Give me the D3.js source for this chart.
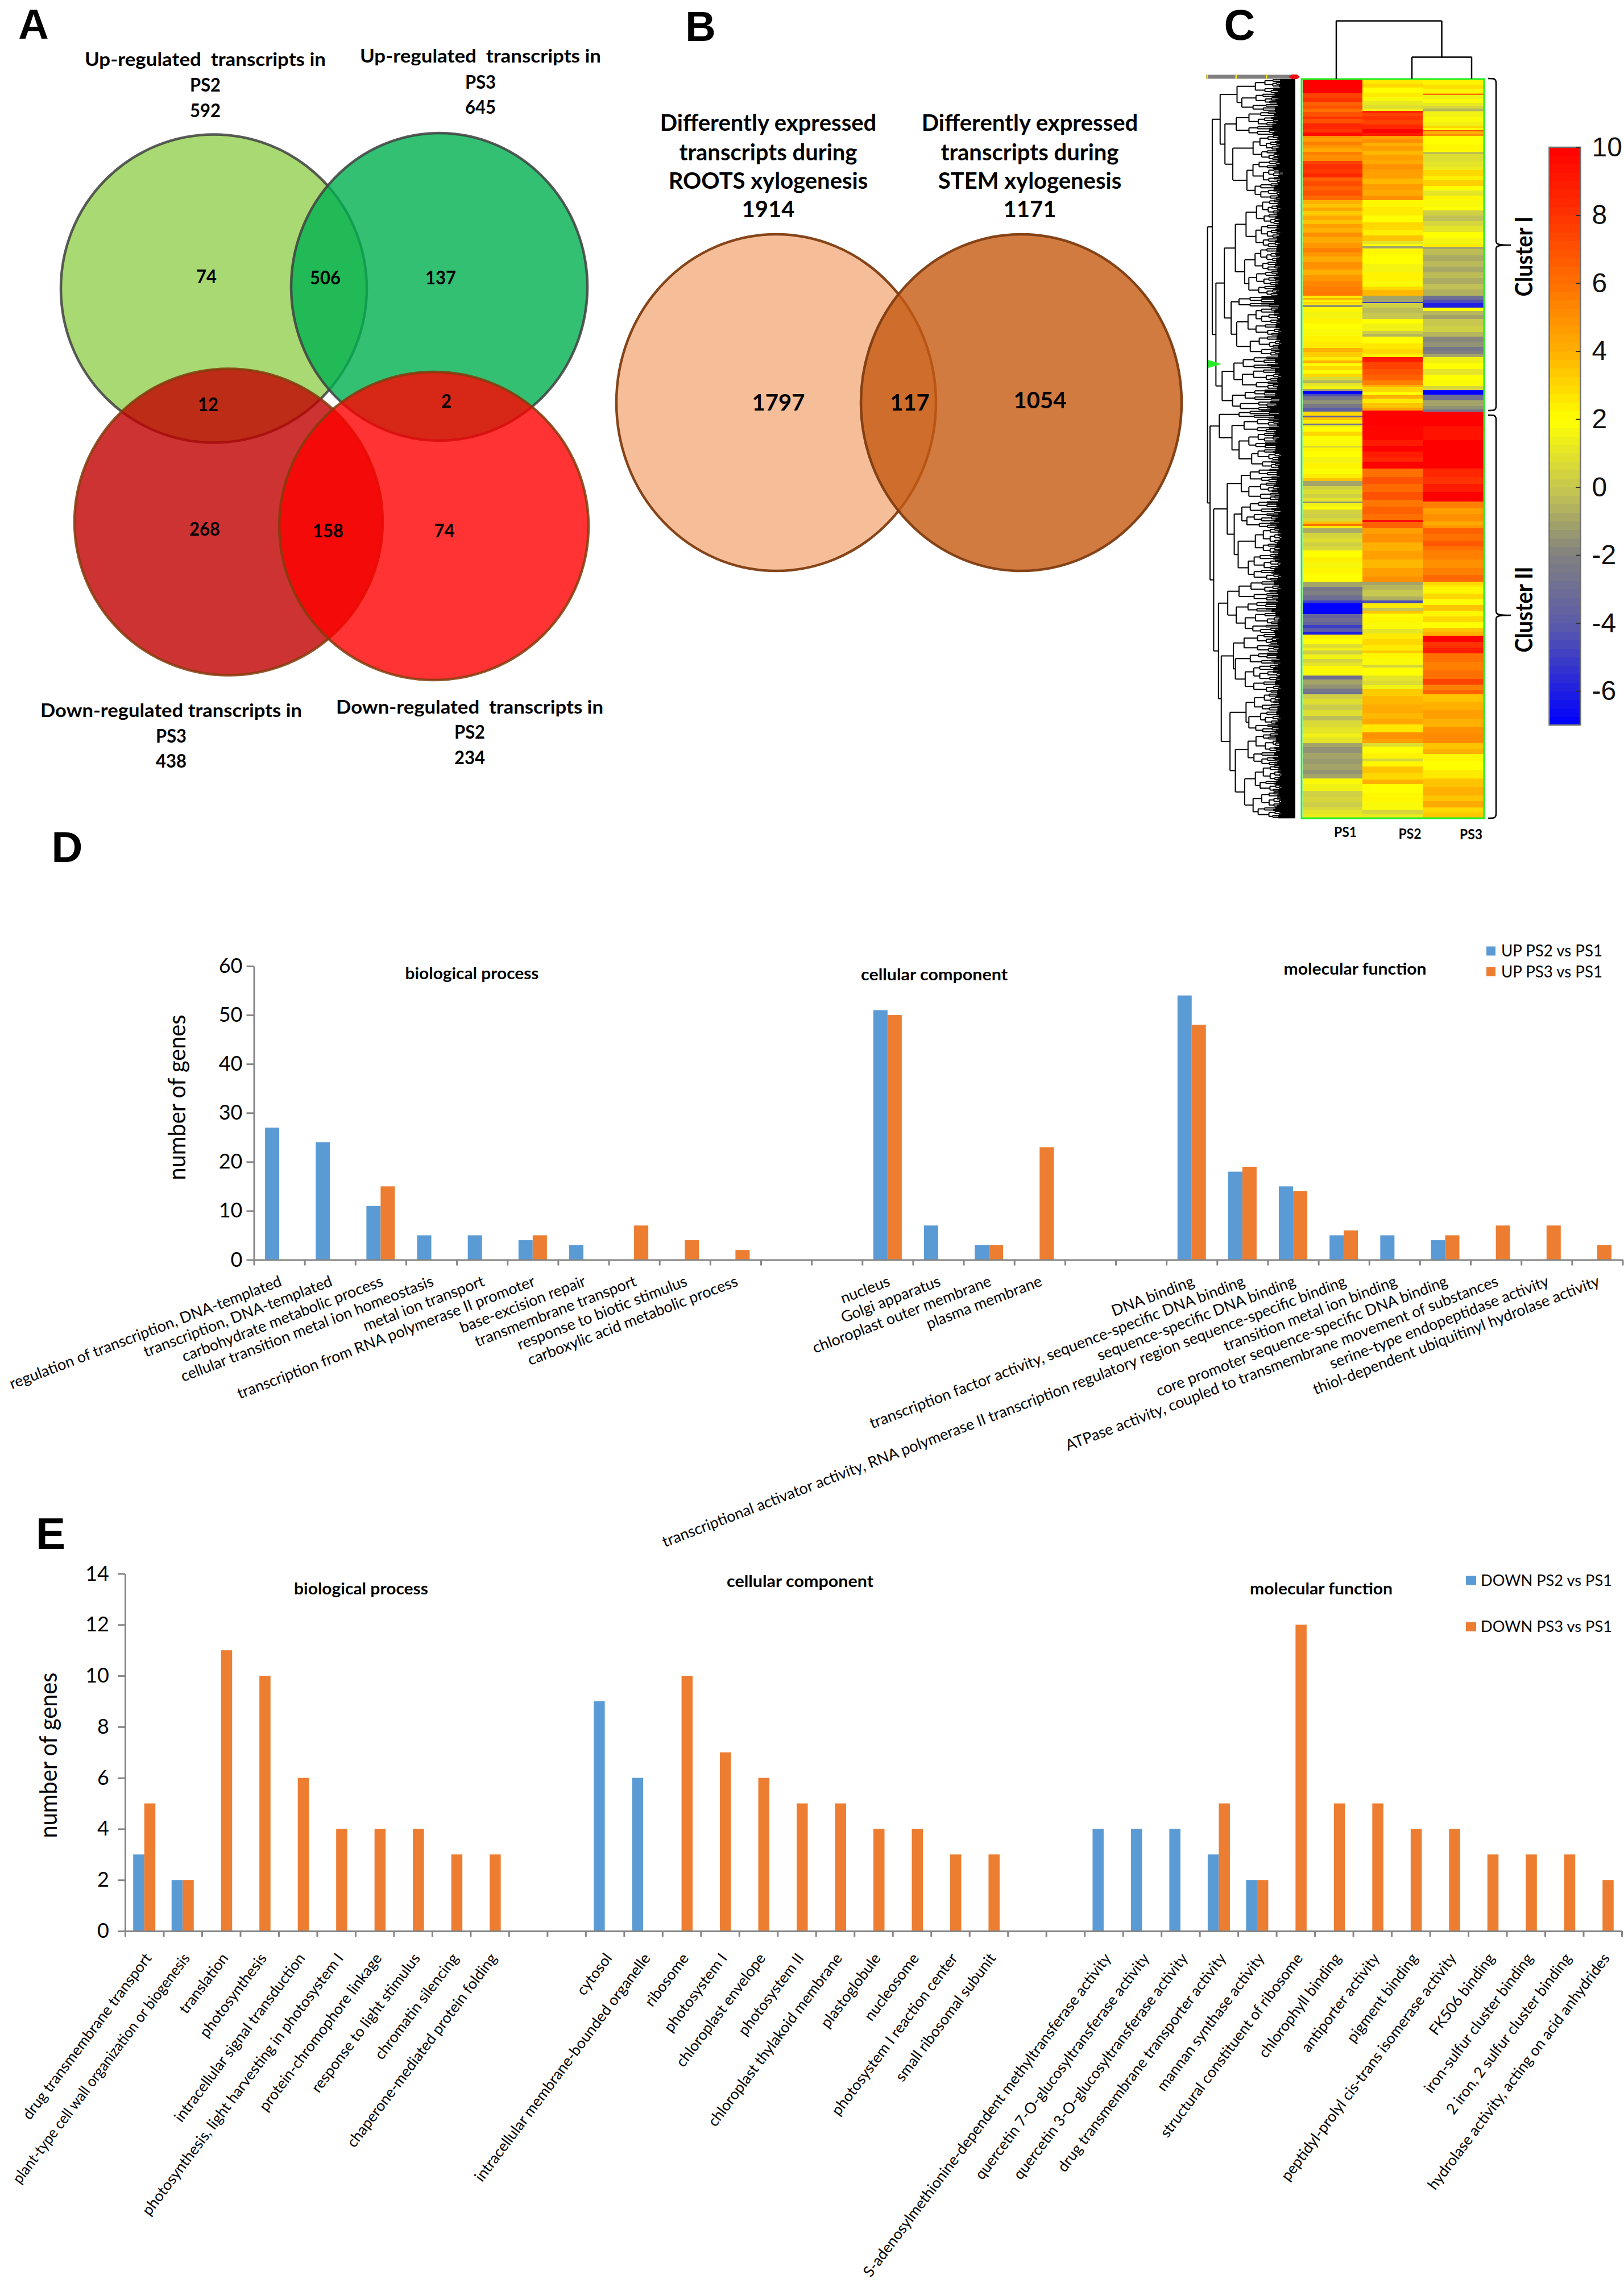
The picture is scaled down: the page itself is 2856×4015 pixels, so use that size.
<!DOCTYPE html>
<html><head><meta charset="utf-8">
<script src="https://cdnjs.cloudflare.com/ajax/libs/d3/7.8.5/d3.min.js"></script>
<style>html,body{margin:0;padding:0;background:#fff}svg{display:block}</style></head>
<body><svg id="fig" width="2856" height="4015" xmlns="http://www.w3.org/2000/svg"></svg>
<script>
// ---------- Panel A / B values ----------
const vennAHeads=[["Up-regulated  transcripts in","PS2","592"],["Up-regulated  transcripts in","PS3","645"],["Down-regulated transcripts in","PS3","438"],["Down-regulated  transcripts in","PS2","234"]];
const vennACounts=["74","506","137","12","2","268","158","74"];
const vennBHeads=[["Differently expressed","transcripts during","ROOTS xylogenesis","1914"],["Differently expressed","transcripts during","STEM xylogenesis","1171"]];
const vennBCounts=["1797","117","1054"];
// ---------- Panel C values: [end row, log2 value] runs, one list per column ----------
const heatCols=["PS1","PS2","PS3"];
const heatPS1=[[25,10],[33,7.5],[40,8],[47,6.5],[52,7],[58,6],[66,7],[70,8],[78,7],[88,8.5],[94,8],[100,9.5],[104,5],[110,4.5],[116,5.5],[122,4.8],[128,4.2],[134,5.5],[139,5],[144,5.2],[150,7.5],[158,8.2],[166,7.8],[173,8.5],[180,6.5],[188,7.2],[196,6.5],[205,7],[213,6.2],[220,4],[226,3.5],[232,4.3],[240,3.3],[248,4.2],[255,3.5],[262,4.5],[270,4],[278,5],[288,4.2],[297,4.8],[305,5.5],[312,4.8],[322,4.2],[335,5],[345,4],[355,4.8],[365,5.3],[373,5.6],[381,5.8],[385,2.5],[388,4],[392,2.3],[395,3],[397,2.5],[401,-1.5],[410,2.2],[420,1.6],[430,2.3],[440,2],[452,1.8],[462,2.3],[473,2.5],[480,4],[489,3.3],[495,2.5],[500,4],[505,2],[512,3],[518,2],[524,3],[530,0.7],[535,-0.5],[540,1],[545,1.5],[549,-1],[554,-7],[558,-4.5],[565,-2.5],[572,-1.5],[578,-2.5],[583,-4],[585,-3],[592,3],[595,-4],[600,3.5],[606,2.5],[609,-3],[612,1.5],[620,2],[628,3],[635,2],[645,1.8],[648,0.5],[655,2.2],[665,2],[675,1.6],[685,2.3],[695,1.9],[702,2.5],[707,3.5],[716,-1],[722,0.3],[730,0.8],[737,0.3],[743,1],[746,-1.5],[752,1.5],[757,2],[765,0.4],[772,0.2],[778,0.6],[782,3.5],[786,6],[790,2.5],[798,-0.8],[808,0.4],[815,0.8],[822,0.3],[829,0.6],[840,2],[850,2.4],[860,1.7],[870,2.2],[884,2],[893,-1],[900,-2.5],[908,-2],[917,-3],[922,-5],[941,-7],[948,-3.5],[955,-3],[960,-3.5],[966,-5],[972,-4],[977,-6],[985,2.3],[994,2],[1000,0.8],[1005,1.5],[1012,0.3],[1020,1.5],[1026,0.4],[1032,1],[1040,2.2],[1049,1.8],[1056,-3],[1065,-1],[1072,-1.5],[1078,-2.5],[1082,-3],[1090,0.2],[1100,0.8],[1110,0.1],[1120,0.8],[1128,-0.3],[1140,0.6],[1151,1],[1158,1.5],[1168,1],[1175,-1],[1185,-1.5],[1195,-1],[1205,-1.3],[1215,-1],[1222,-1.5],[1230,-1],[1240,1.8],[1252,1.5],[1262,0.3],[1272,0.5],[1280,0.2],[1285,0.6],[1292,1],[1300,1.3]];
const heatPS2=[[8,2.5],[15,3],[24,2],[32,2.5],[38,1.8],[46,1.2],[52,0.8],[56,1.5],[60,8.5],[65,7.5],[72,8],[80,7.5],[88,8.5],[95,10],[100,9],[106,4.5],[112,5],[118,4],[126,4.6],[134,3.8],[142,4.5],[150,4.2],[158,5],[166,4.6],[175,4.5],[185,3.8],[195,4.6],[205,4.2],[213,5],[225,2.2],[240,2.5],[252,2],[265,3],[275,2.4],[285,3.5],[290,1],[294,2],[297,-1],[299,0.5],[310,2.2],[325,2],[340,1.6],[355,2.3],[365,1.8],[371,3],[381,3.8],[392,-1],[394,-5],[402,0.3],[412,-0.3],[422,0],[430,2],[443,1.5],[448,0.2],[453,-0.5],[465,2],[475,2.6],[483,3],[489,2.3],[498,9],[510,7.5],[520,7],[530,6.5],[538,5.5],[542,4],[550,3],[556,2],[562,4],[570,2.5],[578,3.5],[583,4.5],[610,10],[635,9.8],[645,9],[655,10],[665,9],[673,8.5],[685,10],[700,6],[712,7],[726,6.2],[740,7],[752,5.8],[765,6.5],[776,6],[779,10],[790,6.5],[800,4.5],[815,5],[830,4],[845,4.5],[860,3.8],[875,4.5],[884,5],[890,-1],[898,-0.5],[910,0],[917,-0.7],[922,-4.5],[930,2.5],[935,0],[940,3.5],[946,2],[955,2.2],[967,1.8],[975,1],[985,2.5],[995,3],[1005,2.5],[1010,3.3],[1020,2.2],[1030,1.8],[1035,0.5],[1049,2],[1058,1],[1066,0.7],[1073,1.5],[1085,3.3],[1100,3.8],[1115,4.2],[1125,3.8],[1135,4.3],[1149,2.6],[1160,5],[1168,4.5],[1174,0.8],[1185,2],[1195,2.3],[1200,0.5],[1209,2.2],[1220,3.5],[1232,3],[1240,4],[1255,2],[1270,2.2],[1285,1.8],[1293,0.5],[1300,1.2]];
const heatPS3=[[10,2.3],[18,2.8],[24,2.2],[26,3.5],[28,6],[35,1.5],[42,1.8],[47,1.2],[52,0.5],[56,-0.5],[58,1],[66,1.5],[75,1.8],[82,1.5],[86,3],[90,2],[92,7],[97,4],[100,5],[115,2],[127,2.2],[129,2],[131,-1],[145,0.8],[155,1],[160,1.3],[170,3],[178,2.4],[188,3.2],[196,2],[205,1],[213,2.2],[225,1.8],[231,2],[240,0.3],[250,-0.2],[258,0.5],[269,1],[280,2],[290,1.6],[295,2.5],[299,-1],[310,-0.3],[320,-0.8],[330,-0.4],[340,-0.9],[350,-0.3],[360,-0.8],[370,-0.2],[381,-0.6],[388,-3],[394,-4.5],[402,-6],[408,2],[415,-0.5],[422,-1],[435,0],[445,0.3],[453,-0.5],[462,-1.8],[471,-1.5],[478,-2.5],[484,-2],[489,-1],[500,1.5],[510,2],[520,1],[530,2],[540,1.8],[547,0.5],[555,-7],[565,-3],[575,-1],[581,-1.5],[585,-2.5],[610,10],[635,9.3],[685,10],[700,8.5],[712,8],[726,9],[743,10],[755,5.5],[765,4.5],[778,5],[785,4.2],[790,4.8],[800,6.5],[812,6],[822,6.8],[829,6],[845,5.5],[860,5],[872,5.5],[884,6.3],[890,3],[893,2.5],[905,2.2],[915,3],[925,2],[935,3.5],[945,2.2],[955,3],[965,2],[972,3.5],[979,4],[990,10],[1000,8],[1010,9],[1025,6],[1040,5.5],[1055,6],[1065,7.5],[1075,5.5],[1082,6.5],[1095,3.5],[1110,4],[1125,4.5],[1140,4],[1151,5],[1168,5.2],[1178,3.5],[1187,4],[1200,2.2],[1215,2],[1230,2.5],[1245,3.5],[1260,4],[1270,3.5],[1281,4.2],[1290,3],[1300,3.4]];
const heatColorStops=[-7,-4,-2,0,2,4,6,8,10];
const heatColorValues=["#0000ff","#5c5ca8","#808080","#c8c850","#ffff00","#ffb000","#ff7000","#ff3300","#ff0000"];
const colorbarTicks=[10,8,6,4,2,0,-2,-4,-6];
// row dendrogram: [merge height, child, child] or [merge height, leaf count]
const rowTree=[312,
 [295,
  [267,
   [207,[142,19],[190,24]],
   [250,[210,32],[222,[150,33],[172,52]]]],
  [282,
   [252,
    [213,[175,[138,33],[140,31]],[180,[143,31],[165,33]]],
    [228,[200,15],[208,[168,38],[160,27]]]],
   [260,[218,[185,17],[188,27]],[223,[178,15],[195,13]]]]],
 [303,
  [270,[200,10],[225,[182,19],[200,[165,22],[155,26]]]],
  [290,
   [242,
    [192,[160,18],[165,25]],
    [217,[190,[160,16],[172,20]],[203,[142,34],[167,36]]]],
   [273,
    [240,[200,27],[210,[168,15],[178,28]]],
    [263,
     [220,[182,25],[213,[160,16],[178,38]]],
     [232,[175,[145,24],[165,29]],[213,[168,43],[180,[142,35],[150,35]]]]]]]]];
// ---------- Panel D values ----------
const catsD=["regulation of transcription, DNA-templated","transcription, DNA-templated","carbohydrate metabolic process","cellular transition metal ion homeostasis","metal ion transport","transcription from RNA polymerase II promoter","base-excision repair","transmembrane transport","response to biotic stimulus","carboxylic acid metabolic process","","","nucleus","Golgi apparatus","chloroplast outer membrane","plasma membrane","","","DNA binding","transcription factor activity, sequence-specific DNA binding","sequence-specific DNA binding","transcriptional activator activity, RNA polymerase II transcription regulatory region sequence-specific binding","transition metal ion binding","core promoter sequence-specific DNA binding","ATPase activity, coupled to transmembrane movement of substances","serine-type endopeptidase activity","thiol-dependent ubiquitinyl hydrolase activity"];
const upPS2=[27,24,11,5,5,4,3,0,0,0,0,0,51,7,3,0,0,0,54,18,15,5,5,4,0,0,0];
const upPS3=[0,0,15,0,0,5,0,7,4,2,0,0,50,0,3,23,0,0,48,19,14,6,0,5,7,7,3];
const ticksD=[0,10,20,30,40,50,60];
// ---------- Panel E values ----------
const catsE=["drug transmembrane transport","plant-type cell wall organization or biogenesis","translation","photosynthesis","intracellular signal transduction","photosynthesis, light harvesting in photosystem I","protein-chromophore linkage","response to light stimulus","chromatin silencing","chaperone-mediated protein folding","","","cytosol","intracellular membrane-bounded organelle","ribosome","photosystem I","chloroplast envelope","photosystem II","chloroplast thylakoid membrane","plastoglobule","nucleosome","photosystem I reaction center","small ribosomal subunit","","","S-adenosylmethionine-dependent methyltransferase activity","quercetin 7-O-glucosyltransferase activity","quercetin 3-O-glucosyltransferase activity","drug transmembrane transporter activity","mannan synthase activity","structural constituent of ribosome","chlorophyll binding","antiporter activity","pigment binding","peptidyl-prolyl cis-trans isomerase activity","FK506 binding","iron-sulfur cluster binding","2 iron, 2 sulfur cluster binding","hydrolase activity, acting on acid anhydrides"];
const downPS2=[3,2,0,0,0,0,0,0,0,0,0,0,9,6,0,0,0,0,0,0,0,0,0,0,0,4,4,4,3,2,0,0,0,0,0,0,0,0,0];
const downPS3=[5,2,11,10,6,4,4,4,3,3,0,0,0,0,10,7,6,5,5,4,4,3,3,0,0,0,0,0,5,2,12,5,5,4,4,3,3,3,2];
const ticksE=[0,2,4,6,8,10,12,14];
const groupNames=["biological process","cellular component","molecular function"];
const seriesColors=["#5b9bd5","#ed7d31"];

const svg=d3.select("#fig");
const SANS="Lato, 'Open Sans', sans-serif";
function T(g,str,x,y,o={}){
  const t=g.append("text").text(str)
    .attr("font-family",o.family||SANS).attr("font-size",o.size||30)
    .attr("font-weight",o.weight||"normal").attr("fill",o.fill||"#000")
    .attr("text-anchor",o.anchor||"middle").attr("dy",".35em").style("white-space","pre");
  if(o.rotate!==undefined){t.attr("transform",`translate(${x},${y}) rotate(${o.rotate})`);}else{t.attr("x",x).attr("y",y);}
  if(o.w){t.attr("textLength",o.w).attr("lengthAdjust","spacingAndGlyphs");}
  return t;
}
// panel letters
[["A",59,42,74],["B",1232,46,74],["C",2180,43,76],["D",118,1489.5,76],["E",89,2697,78]].forEach(d=>T(svg,d[0],d[1],d[2],{size:d[3],weight:"bold",family:"'Liberation Sans',Arial,sans-serif"}));

// ---------- A ----------
const A=svg.append("g");
const vennACircles=[{cx:376,cy:507.5,rx:269,ry:271,f:"#92d050",s:"#404040"},{cx:772.5,cy:504.5,rx:260.5,ry:270.5,f:"#00b050",s:"#404040"},{cx:402,cy:918,rx:271,ry:269.5,f:"#c00000",s:"#843c0c"},{cx:763,cy:925,rx:272,ry:271,f:"#ff0000",s:"#843c0c"}];
A.selectAll("ellipse").data(vennACircles).join("ellipse").attr("cx",d=>d.cx).attr("cy",d=>d.cy).attr("rx",d=>d.rx).attr("ry",d=>d.ry)
 .attr("fill",d=>d.f).attr("fill-opacity",.8).attr("stroke",d=>d.s).attr("stroke-opacity",.85).attr("stroke-width",4.5);
const headA=[[361,[105,150,195],424],[845,[99,145,189],424],[301,[1250,1295,1339],460],[826,[1244,1288,1333],470]];
vennAHeads.forEach((h,i)=>h.forEach((s,j)=>T(A,s,headA[i][0],headA[i][1][j],{size:32,weight:"bold",w:j==0?headA[i][2]:54})));
const numA=[[363,487],[572,489],[775,489],[366,712],[785,706],[360,931],[577,934],[781.5,934]];
vennACounts.forEach((s,i)=>T(A,s,numA[i][0],numA[i][1],{size:32,weight:"bold",w:s.length*18}));

// ---------- B ----------
const B=svg.append("g");
const vennBCircles=[{cx:1365,cy:708,rx:281,ry:296,f:"#ed7d31",o:.5},{cx:1796,cy:708,rx:282,ry:296,f:"#c55a11",o:.8}];
B.selectAll("ellipse").data(vennBCircles).join("ellipse").attr("cx",d=>d.cx).attr("cy",d=>d.cy).attr("rx",d=>d.rx).attr("ry",d=>d.ry)
 .attr("fill",d=>d.f).attr("fill-opacity",d=>d.o).attr("stroke","#7f3c10").attr("stroke-opacity",.95).attr("stroke-width",4.5);
const headBx=[1351,1811],headBy=[216,268,318,368];
vennBHeads.forEach((h,i)=>h.forEach((s,j)=>T(B,s,headBx[i],headBy[j],{size:40,weight:"bold"})));
const numB=[[1369,708],[1600,708],[1829,704]];
vennBCounts.forEach((s,i)=>T(B,s,numB[i][0],numB[i][1],{size:40,weight:"bold"}));

// ---------- C ----------
const C=svg.append("g");
const heatColor=d3.scaleLinear().domain(heatColorStops).range(heatColorValues);
const heatRows=d3.scaleLinear().domain([0,1300]).range([139,1439]);
const heatX=d3.scaleBand().domain(heatCols).range([2290.5,2608]);
[heatPS1,heatPS2,heatPS3].forEach((runs,i)=>{
  let prev=0;
  const segs=runs.map(r=>{const s={a:prev,b:r[0],v:r[1]};prev=r[0];return s;});
  C.append("g").selectAll("rect").data(segs).join("rect")
   .attr("x",heatX(heatCols[i])).attr("width",heatX.bandwidth()+.5)
   .attr("y",d=>heatRows(d.a)).attr("height",d=>heatRows(d.b)-heatRows(d.a)+.5)
   .attr("fill",d=>heatColor(d.v)).attr("shape-rendering","crispEdges");
});
C.append("rect").attr("x",2289).attr("y",139).attr("width",321).attr("height",1300).attr("fill","none").attr("stroke","#22ee22").attr("stroke-width",3);
// row dendrogram
function expand(h,n,depth){
  if(n<=1) return {h:0};
  const lv=Math.ceil(Math.log2(n));
  const step=Math.max(h-42,0)/lv;
  const a=Math.max(1,Math.round(n*(depth%2?0.36:0.58)));
  const b=n-a;
  const nh=k=>Math.max(k<=1?0:32+((k*7+depth*5)%18),h-step*(1+((k+depth)%3)*.35));
  return {h,children:[a,b].map(k=>k<=1?{h:0}:expand(Math.min(nh(k),h-3),k,depth+1))};
}
function parseTree(t){
  if(t.length===2) return expand(t[0],t[1],0);
  return {h:t[0],children:[parseTree(t[1]),parseTree(t[2])]};
}
const rowRoot=d3.hierarchy(parseTree(rowTree));
d3.cluster().size([1300,1]).separation(()=>1)(rowRoot);
const dendX=d3.scaleLinear().domain([0,312]).range([2278,2123.5]);
const pth=d3.path();
rowRoot.descendants().filter(n=>n.children).forEach(n=>{
  const xp=dendX(n.data.h);
  const ys=n.children.map(c=>heatRows(c.x));
  pth.moveTo(xp,d3.min(ys));pth.lineTo(xp,d3.max(ys));
  n.children.forEach(c=>{pth.moveTo(xp,heatRows(c.x));pth.lineTo(dendX(c.data.h),heatRows(c.x));});
});
C.append("path").attr("d",pth.toString()).attr("fill","none").attr("stroke","#000").attr("stroke-width",2);
// top color strip over dendrogram
C.append("rect").attr("x",2121).attr("y",131.5).attr("width",155).attr("height",7).attr("fill","#808080");
[2121.5,2172.5,2226].forEach(x=>C.append("rect").attr("x",x).attr("y",131.5).attr("width",2.5).attr("height",7).attr("fill","#ffe800"));
C.append("path").attr("d","M2266,135 L2272,131 L2281,131 L2286,135 L2281,139 L2272,139 Z").attr("fill","#e81010");
C.append("path").attr("d","M2125,633 L2148,640 L2125,647 Z").attr("fill","#22ee22");
// column dendrogram
const colHier=d3.hierarchy({h:2,children:[{h:0,n:"PS1"},{h:1,children:[{h:0,n:"PS2"},{h:0,n:"PS3"}]}]});
const colLeafX=d3.scaleOrdinal(heatCols,[2350,2483,2588]);
const colH=d3.scaleLinear().domain([0,1,2]).range([139,100.5,36.7]);
const cp=d3.path();
colHier.eachAfter(n=>{n.px=n.children?d3.mean(n.children,c=>c.px):colLeafX(n.data.n);});
colHier.descendants().filter(n=>n.children).forEach(n=>{
  const y=colH(n.data.h);
  cp.moveTo(n.children[0].px,y);cp.lineTo(n.children[1].px,y);
  n.children.forEach(c=>{cp.moveTo(c.px,y);cp.lineTo(c.px,colH(c.data.h));});
});
C.append("path").attr("d",cp.toString()).attr("fill","none").attr("stroke","#000").attr("stroke-width",2.5);
// braces
function brace(y0,ym,y1){
  return `M2617,${y0} C2627,${y0} 2631,${y0} 2631,${y0+8} L2631,${ym-7} C2631,${ym-1} 2636,${ym} 2657,${ym} C2636,${ym} 2631,${ym+1} 2631,${ym+7} L2631,${y1-8} C2631,${y1} 2627,${y1} 2617,${y1}`;
}
C.append("path").attr("d",brace(138,431,722)).attr("fill","none").attr("stroke","#000").attr("stroke-width",2.5);
C.append("path").attr("d",brace(730,1082,1439)).attr("fill","none").attr("stroke","#000").attr("stroke-width",2.5);
T(C,"Cluster I",2680,451,{size:42,weight:"bold",rotate:-90,w:141});
T(C,"Cluster II",2680,1072,{size:42,weight:"bold",rotate:-90,w:151});
[["PS1",2366,1463],["PS2",2479.5,1466],["PS3",2587,1467]].forEach(d=>T(C,d[0],d[1],d[2],{size:25,weight:"bold",w:40}));
// colorbar
const cb=d3.scaleLinear().domain([-7,10]).range([1275,259]);
const cbSteps=d3.range(-7,10,0.25);
C.append("g").selectAll("rect").data(cbSteps).join("rect").attr("x",2724.5).attr("width",55)
 .attr("y",d=>cb(d+.25)).attr("height",d=>cb(d)-cb(d+.25)+.5).attr("fill",d=>heatColor(d+.125)).attr("shape-rendering","crispEdges");
C.append("rect").attr("x",2724.5).attr("y",259).attr("width",55).attr("height",1016).attr("fill","none").attr("stroke","#707070").attr("stroke-width",2.5);
const cbAxis=C.append("g").attr("transform","translate(2779.5,0)")
 .call(d3.axisRight(cb).tickValues(colorbarTicks).tickFormat(String).tickSizeInner(-8).tickSizeOuter(0).tickPadding(0));
cbAxis.select(".domain").remove();
cbAxis.selectAll("line").attr("stroke","#333").attr("stroke-width",2);
cbAxis.selectAll("text").attr("x",20).attr("font-family","'Liberation Sans',Arial,sans-serif").attr("font-size",48).attr("fill","#111").attr("text-anchor","start");

// ---------- D, E ----------
function barChart(o){
  const g=svg.append("g");
  const y=d3.scaleLinear().domain(o.dom).range([o.y0,o.yT]);
  const n=o.cats.length;
  const band=d3.scaleBand().domain(d3.range(n)).range([o.x0,o.x1]);
  const inner=d3.scaleBand().domain([0,1]).range([band.bandwidth()*.5-o.bw,band.bandwidth()*.5+o.bw]);
  o.series.forEach((vals,s)=>{
    g.append("g").selectAll("rect").data(vals.map((v,i)=>({v,i})).filter(d=>d.v>0)).join("rect")
     .attr("x",d=>band(d.i)+inner(s)).attr("width",inner.bandwidth())
     .attr("y",d=>y(d.v)).attr("height",d=>y(0)-y(d.v)).attr("fill",seriesColors[s]);
  });
  const ya=g.append("g").attr("transform",`translate(${o.x0},0)`)
    .call(d3.axisLeft(y).tickValues(o.ticks).tickSizeInner(13).tickSizeOuter(0).tickPadding(o.pad));
  const edge=d3.scaleLinear().domain([0,n]).range([o.x0,o.x1]);
  const xa=g.append("g").attr("transform",`translate(0,${o.y0})`)
    .call(d3.axisBottom(edge).tickValues(d3.range(n+1)).tickFormat("").tickSizeInner(10).tickSizeOuter(0));
  [ya,xa].forEach(a=>{a.selectAll("line").attr("stroke","#868686").attr("stroke-width",3);
    a.select(".domain").attr("stroke","#868686").attr("stroke-width",3);});
  ya.selectAll("text").attr("font-family",SANS).attr("font-size",36).attr("fill","#000");
  const lab=g.append("g").attr("transform",`translate(0,${o.y0})`)
    .call(d3.axisBottom(band).tickFormat(i=>o.cats[i]).tickSize(0));
  lab.select(".domain").remove();
  lab.selectAll("text").attr("y",null).attr("dy",null).attr("font-family",SANS).attr("font-size",o.labSize).attr("fill","#000")
    .attr("text-anchor","end").attr("transform",`translate(${o.ldx},${o.ldy}) rotate(${o.ang})`)
    .each(function(i){ if(o.squeeze&&o.squeeze[i]){ d3.select(this).attr("textLength",this.getComputedTextLength()*o.squeeze[i]).attr("lengthAdjust","spacingAndGlyphs"); } });
  T(g,"number of genes",o.tx,o.ty,{size:42,rotate:-90,w:291});
  o.heads.forEach((h,i)=>T(g,groupNames[i],h[0],h[1],{size:29,weight:"bold",w:h[2]}));
  o.leg.forEach((l,i)=>{
    g.append("rect").attr("x",l[0]).attr("y",l[1]-8).attr("width",l[2]).attr("height",16).attr("fill",seriesColors[i]);
    T(g,l[3],l[4],l[1],{size:o.legSize,anchor:"start",w:l[5]});
  });
}
barChart({cats:catsD,series:[upPS2,upPS3],dom:[0,60],ticks:ticksD,x0:446.5,x1:2853.5,y0:2215.5,yT:1699,bw:25,pad:7,
 labSize:27,ang:-21,ldx:6,ldy:45,tx:311,ty:1930,
 heads:[[830,1712,235],[1643,1714,258],[2383,1704,251]],
 leg:[[2614,1672.5,16,"UP PS2 vs PS1",2640,178],[2614,1709,16,"UP PS3 vs PS1",2640,178]],legSize:28});
barChart({cats:catsE,series:[downPS2,downPS3],dom:[0,14],ticks:ticksE,x0:220,x1:2852,y0:3396,yT:2767.5,bw:19.5,pad:15,
 labSize:26.6,ang:-53,ldx:14,ldy:48,tx:85,ty:3087,squeeze:{1:0.94},
 heads:[[635,2794,236],[1407,2781,258],[2323.5,2794,251]],
 leg:[[2578,2779.5,18,"DOWN PS2 vs PS1",2604,231],[2578,2861,18,"DOWN PS3 vs PS1",2604,231]],legSize:27});
</script></body></html>
